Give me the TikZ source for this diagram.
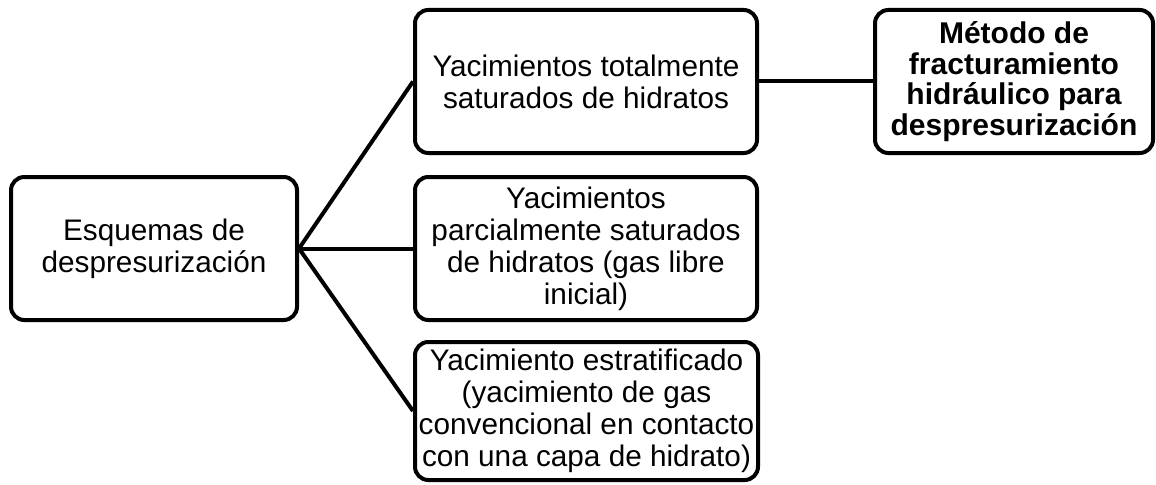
\documentclass[tikz,border=0pt]{standalone}
\usepackage{fontspec}
\setmainfont{Liberation Sans}
\begin{document}
\begin{tikzpicture}[x=0.75pt,y=-0.75pt,
  box/.style={draw=black, line width=3pt, rounded corners=10pt, fill=white,
    align=center, inner sep=0pt, font=\fontsize{22.3}{24}\selectfont},
  link/.style={draw=black, line width=3pt}]
\useasboundingbox (0,0) rectangle (1156,485);
\node[box, minimum width=214.5pt, minimum height=107.25pt] (esq) at (154,248.5)
  {Esquemas de\\despresurización};
\node[box, minimum width=256.5pt, minimum height=107.25pt] (tot) at (586,81.5)
  {Yacimientos totalmente\\saturados de hidratos};
\node[box, minimum width=256.5pt, minimum height=107.25pt] (par) at (586,248.5)
  {Yacimientos\\parcialmente saturados\\de hidratos (gas libre\\inicial)};
\node[box, minimum width=257.25pt, minimum height=103.5pt] (est) at (586.5,411)
  {Yacimiento estratificado\\(yacimiento de gas\\convencional en contacto\\con una capa de hidrato)};
\node[box, minimum width=208.5pt, minimum height=107.25pt, font=\fontsize{22.5}{23}\selectfont\bfseries] (met) at (1014,81.5)
  {Método de\\fracturamiento\\hidráulico para\\despresurización};
\draw[link] (esq.east) -- (tot.west);
\draw[link] (esq.east) -- (par.west);
\draw[link] (esq.east) -- (est.west);
\draw[link] (tot.east) -- (met.west);
\end{tikzpicture}
\end{document}
